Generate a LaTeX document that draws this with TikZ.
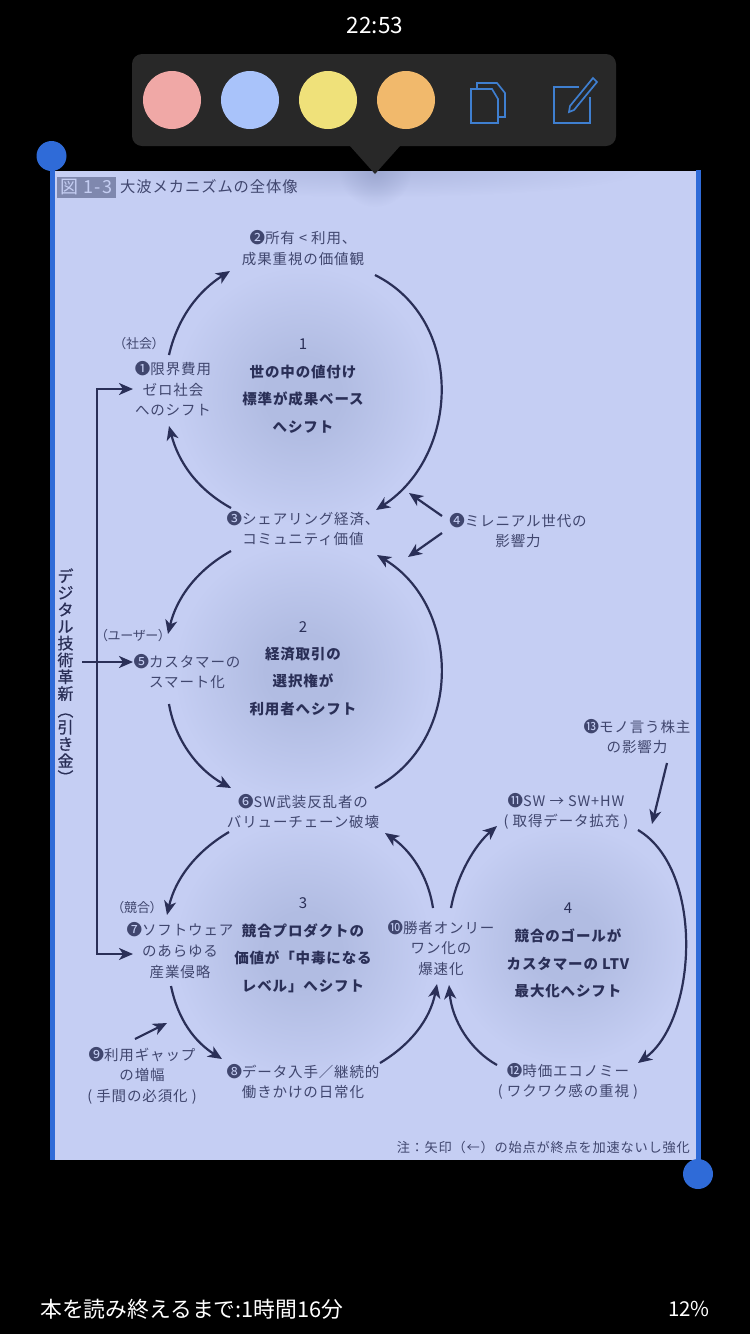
\documentclass[tikz,border=0pt]{standalone}
\usepackage{fontspec}
\usetikzlibrary{arrows.meta,fadings,shadings}
\setmainfont[LetterSpace=6]{Noto Sans CJK JP}
\newfontfamily\plainjp{Noto Sans CJK JP}
\newfontfamily\paltjp[RawFeature=+palt]{Noto Sans CJK JP}
\newfontfamily\vertjp[FakeBold=0.7]{Noto Sans CJK JP}
\newcommand{\nm}[1]{{\plainjp\fontsize{15.5}{15}\selectfont #1}}
\definecolor{panelc}{HTML}{C5CEF3}
\definecolor{blobc}{HTML}{B1BCE2}
\definecolor{duskc}{HTML}{97A2CC}
\definecolor{inkc}{HTML}{2A2F57}
\definecolor{textc}{HTML}{40466E}
\definecolor{barc}{HTML}{2F6BD8}
\definecolor{iconc}{HTML}{3F7FD0}
\definecolor{popc}{HTML}{282828}
\definecolor{badgec}{HTML}{7F88AE}
\definecolor{pinkc}{HTML}{F0A8A6}
\definecolor{bluec}{HTML}{A9C3FA}
\definecolor{yellowc}{HTML}{EFE17A}
\definecolor{orangec}{HTML}{F1B96C}
\pgfdeclareradialshading{blob}{\pgfpoint{0bp}{0bp}}{color(0bp)=(blobc); color(7bp)=(blobc); color(24bp)=(panelc); color(25bp)=(panelc); color(50bp)=(panelc)}
\tikzfading[name=softglow,inner color=transparent!0,outer color=transparent!100]
\tikzset{
  x=1pt,y=-1pt,
  lab/.style={text=textc,align=center,inner sep=0pt,font=\fontsize{14.5}{20.6}\selectfont},
  small/.style={text=textc,align=center,inner sep=0pt,font=\paltjp\fontsize{13}{15}\selectfont},
  head/.style={text=inkc,align=center,inner sep=0pt,font=\bfseries\fontsize{14.5}{27.5}\selectfont},
  num/.style={text=inkc,inner sep=0pt,font=\fontsize{15}{15}\selectfont},
  link/.style={draw=inkc,line width=2.2pt,-{Stealth[length=14pt,width=12pt,inset=4pt]}},
  dlink/.style={draw=inkc,line width=2.2pt,{Stealth[length=14pt,width=12pt,inset=4pt]}-{Stealth[length=14pt,width=12pt,inset=4pt]}},
  swatch/.style={circle,minimum size=58pt,inner sep=0pt},
  icon/.style={draw=iconc,line width=1.7pt,line join=miter},
  ui/.style={text=white,inner sep=0pt}
}
\begin{document}
\begin{tikzpicture}
\useasboundingbox (0,0) rectangle (750,1334);
\fill[black] (0,0) rectangle (750,1334);
% panel
\fill[panelc] (50,171) rectangle (700,1160);
\shade[shading=blob] (303,395) circle (135);
\shade[shading=blob] (303,672) circle (135);
\shade[shading=blob] (303,950) circle (135);
\shade[shading=blob] (568,945) circle (125);
\begin{scope}
\clip (50,171) rectangle (700,1160);
\fill[duskc,opacity=.45,path fading=softglow] (375,171) ellipse (265 and 26);
\fill[duskc,opacity=.75,path fading=softglow] (375,171) circle (36);
\end{scope}
\fill[barc] (50,156) rectangle (54.5,1160);
\fill[barc] (696,170) rectangle (701,1160);
\fill[barc] (51.5,156) circle (15);
\fill[barc] (698,1174) circle (15);
% popup
\fill[popc,rounded corners=10pt] (132,54) rectangle (616,146);
\fill[popc] (350,146) -- (400,146) -- (375,174) -- cycle;
\node[swatch,fill=pinkc] (s1) at (172,100) {};
\node[swatch,fill=bluec] (s2) at (250,100) {};
\node[swatch,fill=yellowc] (s3) at (328,100) {};
\node[swatch,fill=orangec] (s4) at (406,100) {};
\draw[icon] (492,89) -- (498,99) -- (498,123) -- (471,123) -- (471,89) -- cycle;
\draw[icon] (477,88) -- (477,83) -- (497,83) -- (505,93) -- (505,117) -- (498,117);
\draw[icon] (579,87) -- (554,87) -- (554,123) -- (590,123) -- (590,97);
\draw[icon] (570,106) -- (593,78) -- (597,82) -- (574,110) -- (569,112) -- cycle;
\node[ui,font=\plainjp\fontsize{22.5}{22}\selectfont] (clock) at (375,25) {22:53};
\node[ui,anchor=west,font=\plainjp\fontsize{21.8}{22}\selectfont] (remain) at (40,1309) {本を読み終えるまで:1時間16分};
\node[ui,anchor=east,font=\plainjp\fontsize{20.5}{20}\selectfont] (pct) at (710,1309) {12\%};
% title
\fill[badgec] (57,177) rectangle (116,198);
\node[text=panelc,inner sep=0pt,font=\fontsize{18}{18}\selectfont] (badge) at (86.5,187.5) {図 1-3};
\node[text=textc,anchor=west,inner sep=0pt,font=\fontsize{15.3}{15}\selectfont] (title) at (120,187) {大波メカニズムの全体像};
% labels
\node[lab] (n2) at (303,248) {\nm{❷}所有 < 利用、\\成果重視の価値観};
\node[small] (soc) at (139,344) {（社会）};
\node[lab] (n1) at (173,389) {\nm{❶}限界費用\\ゼロ社会\\へのシフト};
\node[lab] (n3) at (303,528.5) {\nm{❸}シェアリング経済、\\コミュニティ価値};
\node[lab] (n4) at (518,530.5) {\nm{❹}ミレニアル世代の\\影響力};
\node[small] (usr) at (133,636) {（ユーザー）};
\node[lab] (n5) at (187,671.5) {\nm{❺}カスタマーの\\スマート化};
\node[lab] (n6) at (303,811.5) {\nm{❻}SW武装反乱者の\\バリューチェーン破壊};
\node[small] (cmp) at (137,908) {（競合）};
\node[lab] (n7) at (180,950.5) {\nm{❼}ソフトウェア\\のあらゆる\\産業侵略};
\node[lab] (n8) at (303,1081.5) {\nm{❽}データ入手／継続的\\働きかけの日常化};
\node[lab] (n9) at (142,1075.5) {\nm{❾}利用ギャップ\\の増幅\\( 手間の必須化 )};
\node[lab] (n10) at (441,948) {\nm{❿}勝者オンリー\\ワン化の\\爆速化};
\node[lab] (n11) at (566,811.5) {\nm{⓫}SW → SW+HW\\( 取得データ拡充 )};
\node[lab] (n12) at (568,1081.5) {\nm{⓬}時価エコノミー\\( ワクワク感の重視 )};
\node[lab] (n13) at (637,736.5) {\nm{⓭}モノ言う株主\\の影響力};
% circle headings
\node[num] (c1) at (303,344.5) {1};
\node[head] (h1) at (303,399) {世の中の値付け\\標準が成果ベース\\へシフト};
\node[num] (c2) at (303,627.5) {2};
\node[head] (h2) at (303,681.5) {経済取引の\\選択権が\\利用者へシフト};
\node[num] (c3) at (303,903.5) {3};
\node[head] (h3) at (303,958) {競合プロダクトの\\価値が「中毒になる\\レベル」へシフト};
\node[num] (c4) at (568,908.5) {4};
\node[head] (h4) at (568,963.5) {競合のゴールが\\カスタマーの LTV\\最大化へシフト};
\node[text=inkc,align=center,inner sep=0pt,font=\vertjp\fontsize{16}{16.8}\selectfont] (dx) at (65.5,676) {デ\\ジ\\タ\\ル\\技\\術\\革\\新\\︵\\引\\き\\金\\︶};
\node[text=textc,anchor=east,inner sep=0pt,font=\fontsize{13.2}{13}\selectfont] (note) at (690,1147) {注：矢印（←）の始点が終点を加速ないし強化};
% connector ends
\foreach \n/\x/\y in {a0/169/355,a1/230/271,b0/375/275,b1/376/510,c0/231/508,c1/169/426,d0/442/516,d1/409/493,e0/442/533,e1/408/557,f0/231/551,f1/168/634,g0/375/788,g1/377/555,h0/169/704,h1/231/788,i0/229/832,i1/167/915,j0/171/986,j1/222/1059,k0/380/1063,k1/437/984,l0/433/908,l1/385/833,m0/451/908,m1/497/826,o0/638/830,o1/638/1063,p0/497/1065,p1/449/985,q0/135/1039,q1/167/1023,r0/667/763,r1/652/824,t0/82/662,t1/133/662,u0/133/389,u1/97/389,u2/97/954,u3/133/954}
  \coordinate (z\n) at (\x,\y);
\draw[link] (za0) .. controls (178,316) and (200,290) .. (za1);
\draw[link] (zb0) .. controls (465,320) and (460,455) .. (zb1);
\draw[link] (zc0) .. controls (195,488) and (178,460) .. (zc1);
\draw[link] (zd0) -- (zd1);
\draw[link] (ze0) -- (ze1);
\draw[link] (zf0) .. controls (195,571) and (176,600) .. (zf1);
\draw[link] (zg0) .. controls (465,740) and (460,605) .. (zg1);
\draw[link] (zh0) .. controls (175,740) and (198,770) .. (zh1);
\draw[link] (zi0) .. controls (195,852) and (175,880) .. (zi1);
\draw[link] (zj0) .. controls (178,1020) and (195,1042) .. (zj1);
\draw[link] (zk0) .. controls (410,1045) and (430,1020) .. (zk1);
\draw[link] (zl0) .. controls (428,875) and (410,850) .. (zl1);
\draw[link] (zm0) .. controls (457,875) and (475,845) .. (zm1);
\draw[link] (zo0) .. controls (705,870) and (697,1020) .. (zo1);
\draw[link] (zp0) .. controls (470,1050) and (452,1020) .. (zp1);
\draw[link] (zq0) -- (zq1);
\draw[link] (zr0) -- (zr1);
\draw[link] (zt0) -- (zt1);
\draw[dlink] (zu0) -- (zu1) -- (zu2) -- (zu3);
\end{tikzpicture}
\end{document}
